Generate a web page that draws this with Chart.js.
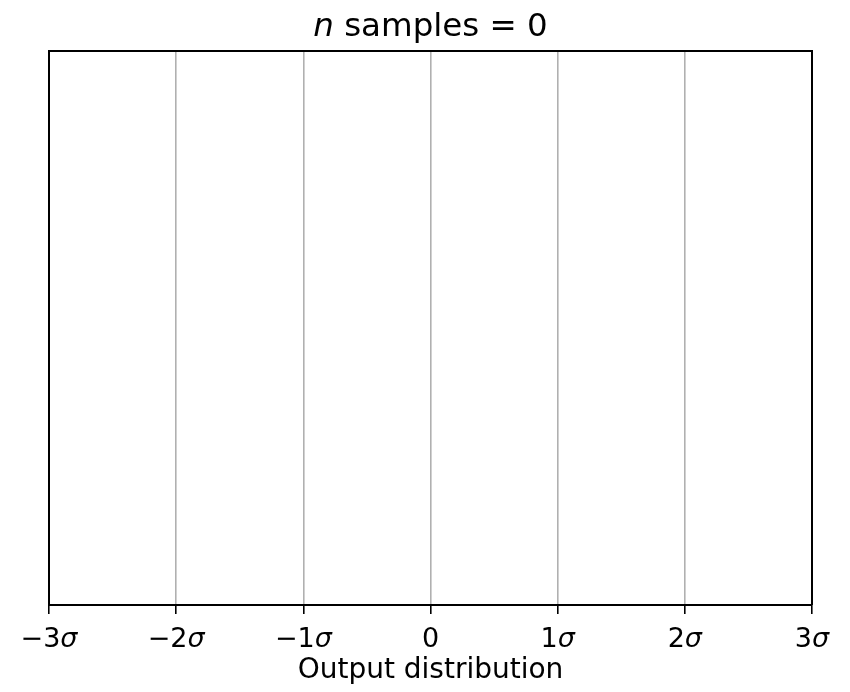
<!DOCTYPE html>
<html>
<head>
<meta charset="utf-8">
<script src="https://cdn.jsdelivr.net/npm/chart.js@4"></script>
<style>
  html, body { margin: 0; padding: 0; background: #fff; }
  #wrap { width: 850px; height: 692px; position: relative; }
</style>
</head>
<body>
<div id="wrap"><canvas id="dist-chart" width="850" height="692"></canvas></div>
<script>
(function () {
    // nothing sampled yet
    const nSamples = 0;
    const samples = [];
    const sigmaTicks = [-3, -2, -1, 0, 1, 2, 3];
    const tickNums = ['\u22123', '\u22122', '\u22121', '0', '1', '2', '3'];
    const tickUnits = ['\u03c3', '\u03c3', '\u03c3', '', '\u03c3', '\u03c3', '\u03c3'];
    const xTitle = 'Output distribution';

    const font = 'DejaVu Sans';

    // frame on top/right, tick labels with italic sigma, title with italic n
    const framePlugin = {
        id: 'frame',
        afterDraw(chart) {
            const ctx = chart.ctx;
            const a = chart.chartArea;
            ctx.save();
            ctx.strokeStyle = '#000';
            ctx.lineWidth = 2;
            ctx.beginPath();
            ctx.moveTo(a.left, a.top);
            ctx.lineTo(a.right, a.top);
            ctx.lineTo(a.right, a.bottom);
            ctx.stroke();

            ctx.fillStyle = '#000';
            ctx.textBaseline = 'alphabetic';
            ctx.textAlign = 'left';
            const up = '27px "' + font + '"';
            const it = 'italic 27px "' + font + '"';
            const xs = chart.scales.x;
            sigmaTicks.forEach((v, i) => {
                ctx.font = up;
                const w1 = ctx.measureText(tickNums[i]).width;
                ctx.font = it;
                const w2 = ctx.measureText(tickUnits[i]).width;
                const x0 = xs.getPixelForValue(v) - (w1 + w2) / 2;
                ctx.font = up;
                ctx.fillText(tickNums[i], x0, a.bottom + 42);
                ctx.font = it;
                ctx.fillText(tickUnits[i], x0 + w1, a.bottom + 42);
            });

            const rest = ' samples = ' + nSamples;
            ctx.font = 'italic 32.5px "' + font + '"';
            const t1 = ctx.measureText('n').width;
            ctx.font = '32.5px "' + font + '"';
            const t2 = ctx.measureText(rest).width;
            const tx = (a.left + a.right) / 2 - (t1 + t2) / 2;
            ctx.font = 'italic 32.5px "' + font + '"';
            ctx.fillText('n', tx, 36);
            ctx.font = '32.5px "' + font + '"';
            ctx.fillText(rest, tx + t1, 36);
            ctx.restore();
        }
    };

    new Chart(document.getElementById('dist-chart'), {
        type: 'scatter',
        data: {
            datasets: [{
                label: 'samples',
                data: samples,
                backgroundColor: '#1f77b4'
            }]
        },
        options: {
            responsive: false,
            animation: false,
            layout: {
                padding: { left: 49, right: 38, top: 51, bottom: 7 }
            },
            scales: {
                x: {
                    type: 'linear',
                    min: -3,
                    max: 3,
                    afterBuildTicks(axis) {
                        axis.ticks = sigmaTicks.map(v => ({ value: v }));
                    },
                    ticks: {
                        autoSkip: false,
                        maxRotation: 0,
                        color: 'rgba(0,0,0,0)', // drawn by the plugin
                        padding: 4,
                        font: { family: font, size: 27, lineHeight: 1.1 },
                        callback: (v) => tickNums[sigmaTicks.indexOf(v)] + tickUnits[sigmaTicks.indexOf(v)]
                    },
                    grid: {
                        color: (c) => (c.tick && Math.abs(c.tick.value) === 3) ? 'rgba(0,0,0,0)' : '#b0b0b0',
                        lineWidth: 1.6,
                        tickColor: '#000',
                        tickLength: 9,
                        tickWidth: 1.6
                    },
                    border: { display: true, color: '#000', width: 2 },
                    title: {
                        display: true,
                        text: xTitle,
                        color: '#000',
                        font: { family: font, size: 28, lineHeight: 1.05 },
                        padding: { top: 4, bottom: 0 }
                    }
                },
                y: {
                    min: 0,
                    max: 1,
                    ticks: { display: false, padding: 0 },
                    grid: { display: false, drawTicks: false, tickLength: 0 },
                    border: { display: true, color: '#000', width: 2 }
                }
            },
            plugins: {
                legend: { display: false },
                tooltip: { enabled: false }
            }
        },
        plugins: [framePlugin]
    });
})();
</script>
</body>
</html>
